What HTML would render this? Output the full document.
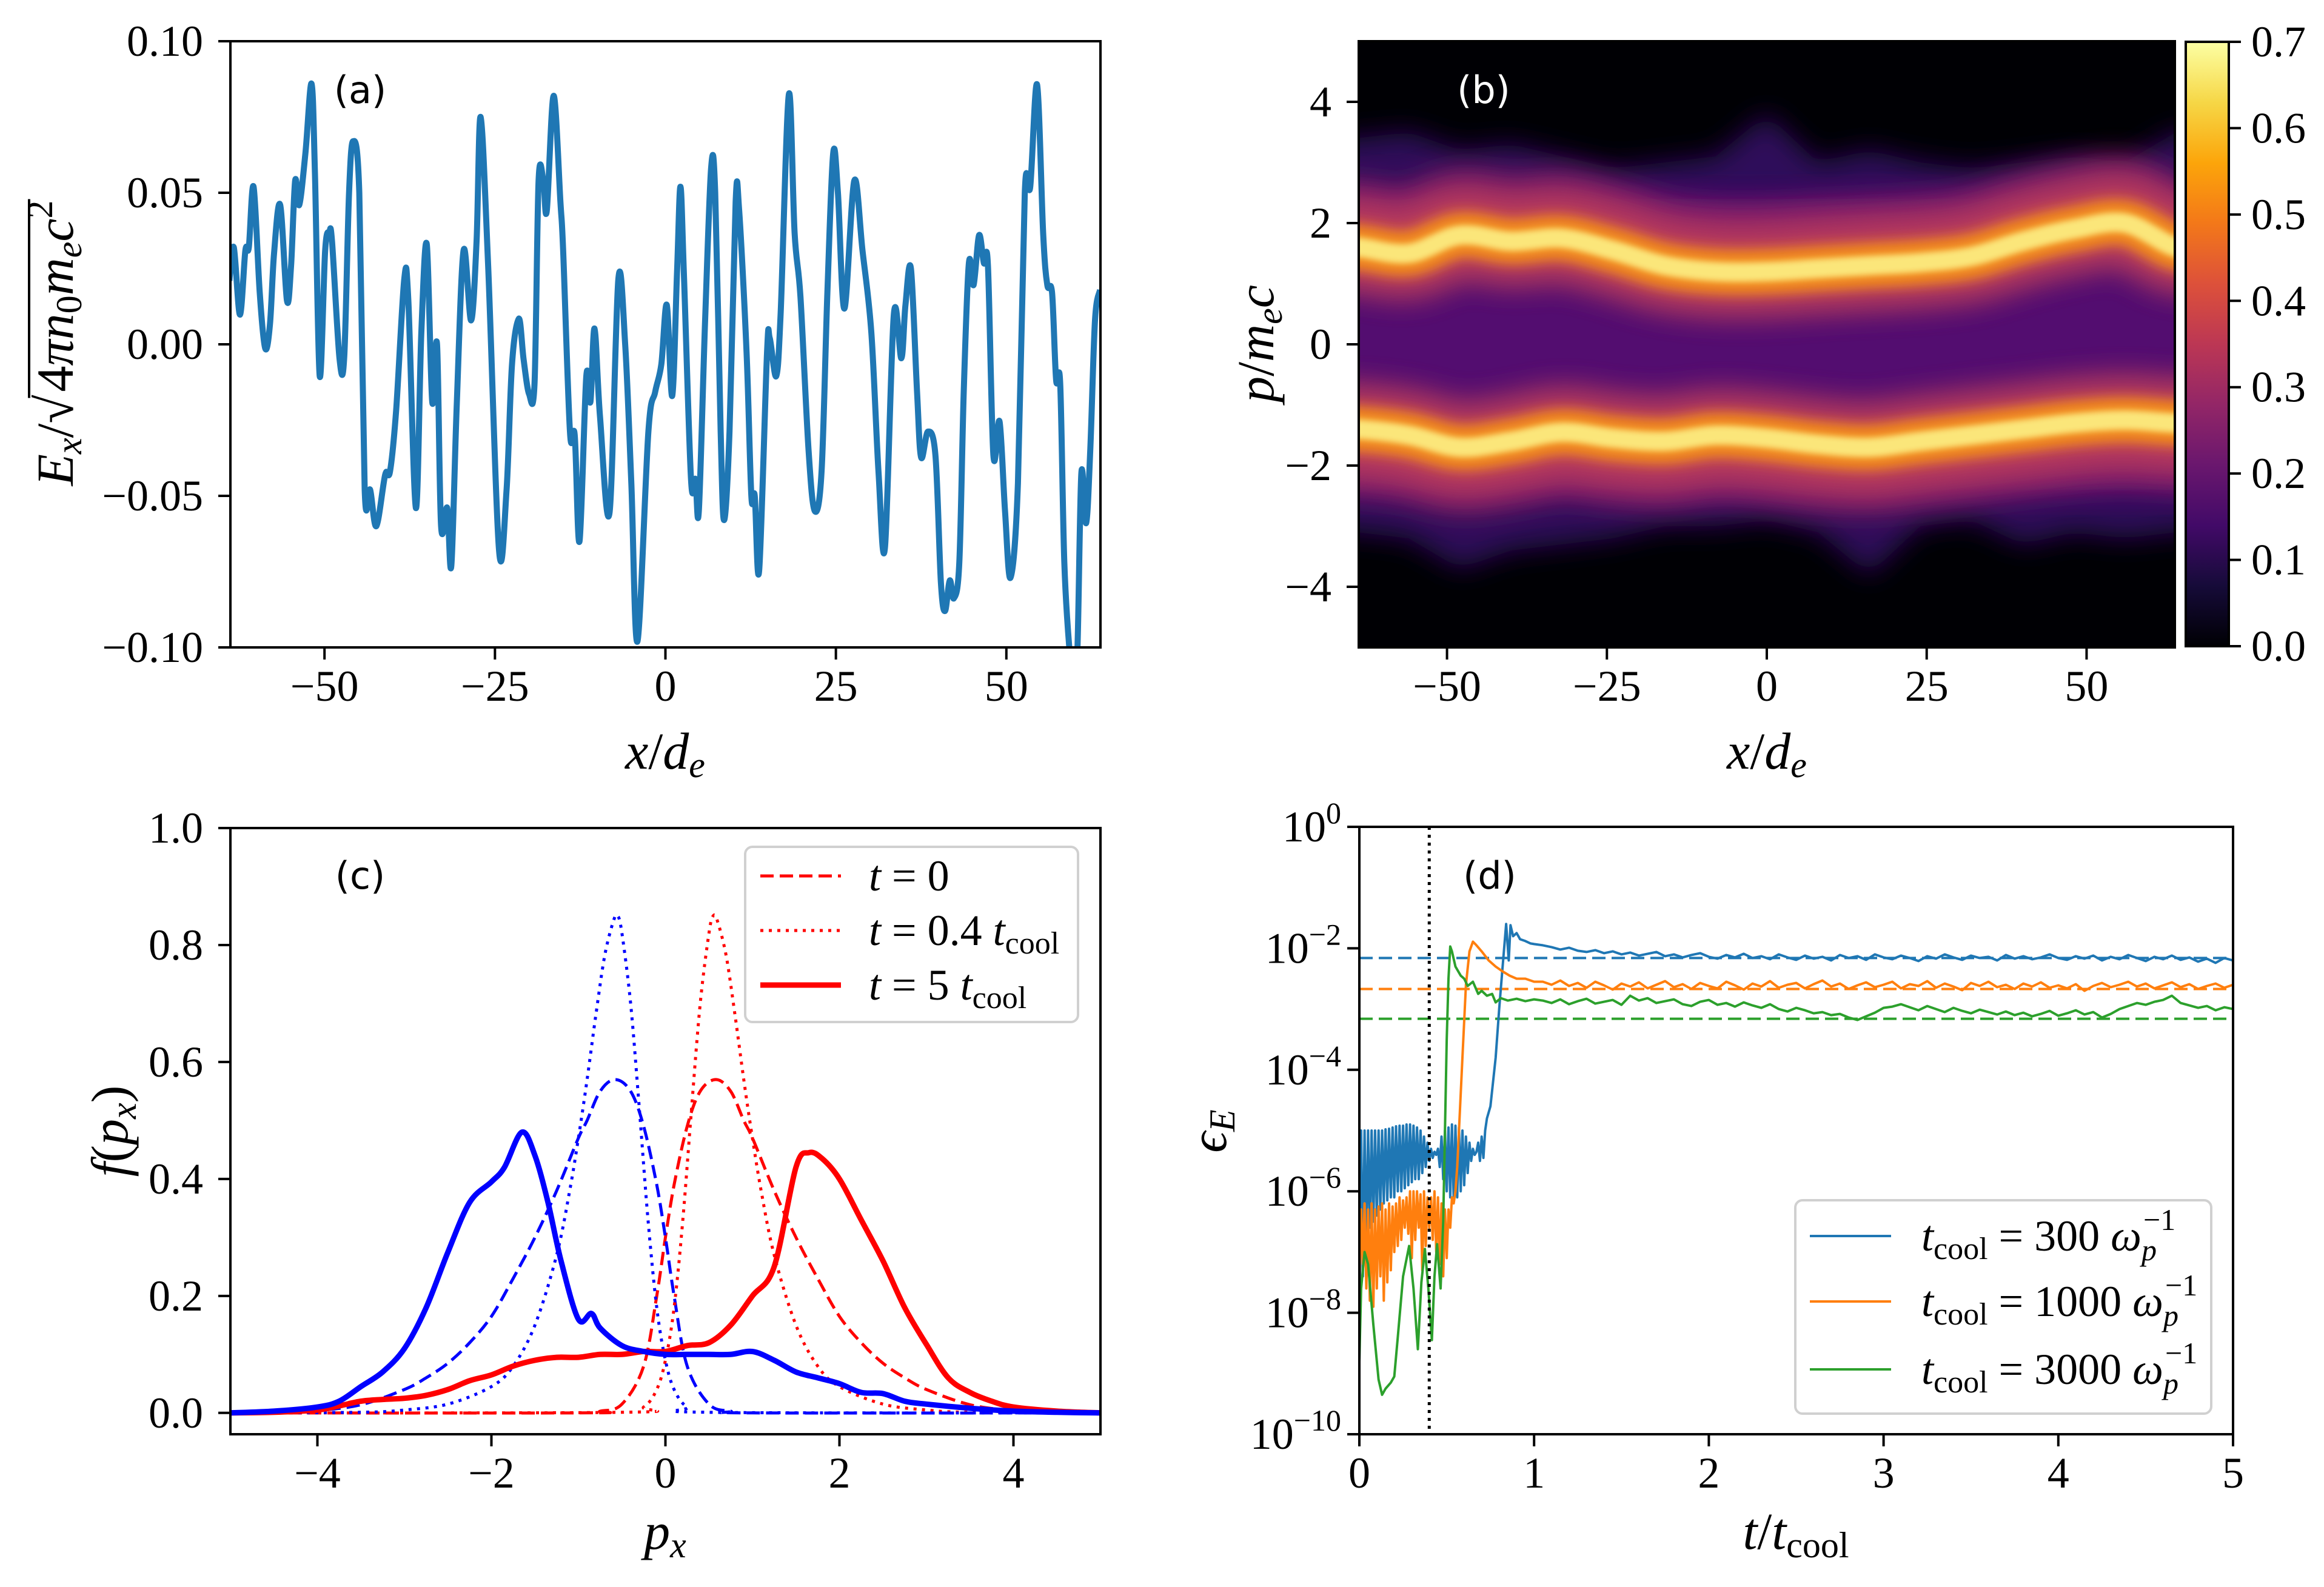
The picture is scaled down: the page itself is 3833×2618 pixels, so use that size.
<!DOCTYPE html>
<html><head><meta charset="utf-8">
<style>
html,body{margin:0;padding:0;background:#fff;}
svg{display:block;}
text{font-family:"Liberation Serif",serif;}
.sans{font-family:"DejaVu Sans","Liberation Sans",sans-serif;}
</style></head>
<body>
<svg id="fig" xmlns="http://www.w3.org/2000/svg" width="3833" height="2618" viewBox="0 0 3833 2618">
<defs>
  <clipPath id="clipA"><rect x="380" y="68" width="1435" height="1000"/></clipPath>
  <clipPath id="clipB"><rect x="2241" y="68" width="1346" height="1000"/></clipPath>
  <clipPath id="clipC"><rect x="380" y="1366" width="1435" height="1000"/></clipPath>
  <clipPath id="clipD"><rect x="2242" y="1364" width="1441" height="1002"/></clipPath>
  <linearGradient id="inferno" x1="0" y1="1" x2="0" y2="0">
    <stop offset="0" stop-color="#000004"/><stop offset="0.1" stop-color="#160b39"/>
    <stop offset="0.2" stop-color="#420a68"/><stop offset="0.3" stop-color="#6a176e"/>
    <stop offset="0.4" stop-color="#932667"/><stop offset="0.5" stop-color="#bc3754"/>
    <stop offset="0.6" stop-color="#dd513a"/><stop offset="0.7" stop-color="#f37819"/>
    <stop offset="0.8" stop-color="#fca50a"/><stop offset="0.9" stop-color="#f6d746"/>
    <stop offset="1" stop-color="#fcffa4"/>
  </linearGradient>
  <filter id="blur1" filterUnits="userSpaceOnUse" x="2000" y="-200" width="1900" height="1500"><feGaussianBlur stdDeviation="22"/></filter>
  <filter id="blur2" filterUnits="userSpaceOnUse" x="2000" y="-200" width="1900" height="1500"><feGaussianBlur stdDeviation="10"/></filter>
  <filter id="blur3" filterUnits="userSpaceOnUse" x="2000" y="-200" width="1900" height="1500"><feGaussianBlur stdDeviation="5"/></filter>
</defs>
<rect x="0" y="0" width="3833" height="2618" fill="#fff"/>
<g id="panelA"></g>
<g id="panelB"></g>
<g id="panelC"></g>
<g id="panelD"></g>
</svg>
<script>
// ---------- Panel (a) data ----------
const aX = [-63.95,-63.3,-62.4,-61.6,-61.1,-60.4,-59.5,-58.7,-58.0,-57.4,-56.5,-55.5,-54.9,-54.3,-53.7,-52.8,-51.9,-51.4,-50.7,-49.9,-49.3,-48.9,-47.8,-47.1,-46.4,-45.8,-44.9,-44.1,-43.3,-42.4,-41.1,-40.4,-39.5,-38.3,-37.7,-36.6,-35.8,-35.0,-34.2,-33.5,-32.9,-32.0,-31.4,-30.6,-29.6,-28.5,-27.7,-27.1,-26.0,-24.4,-23.3,-22.5,-21.5,-20.8,-20.0,-19.2,-18.6,-17.9,-17.4,-16.4,-15.4,-15.0,-14.0,-13.3,-12.6,-11.6,-11.0,-10.4,-9.6,-8.2,-6.9,-5.9,-5.0,-4.1,-2.5,-1.5,-0.6,0.2,1.0,1.7,2.2,2.7,3.75,4.4,4.9,5.8,6.7,7.3,8.1,8.6,9.4,10.3,10.8,11.9,12.6,13.1,13.75,14.9,15.3,16.25,16.9,18.1,18.95,19.8,21.0,21.9,22.9,23.75,24.6,25.3,26.25,27.7,28.9,30.2,31.25,32.2,33.5,34.6,35.2,36.0,36.9,37.5,38.5,39.6,40.4,41.0,41.7,42.3,43.1,43.75,44.5,45.2,46.0,46.7,47.3,48.1,49.0,49.8,50.6,51.7,52.7,53.5,54.5,55.4,56.0,56.7,57.3,57.9,58.5,59.3,59.8,60.4,61.0,61.7,62.3,63.0,63.75];
const aY = [0.021,0.032,0.0098,0.031,0.032,0.052,0.017,-0.0013,0.0065,0.030,0.046,0.0144,0.026,0.054,0.046,0.063,0.086,0.056,-0.0105,0.031,0.037,0.034,-0.0046,-0.004,0.050,0.067,0.050,-0.048,-0.048,-0.060,-0.043,-0.042,-0.022,0.0216,0.0144,-0.054,0.0039,0.033,-0.019,0,-0.060,-0.054,-0.073,-0.0196,0.031,0.0079,0.034,0.075,0.026,-0.068,-0.048,-0.0065,0.0085,-0.005,-0.0164,-0.013,0.054,0.054,0.044,0.082,0.047,0.031,-0.029,-0.030,-0.065,-0.0105,-0.019,0.0052,-0.0236,-0.0556,0.0216,0,-0.046,-0.098,-0.0288,-0.0157,-0.0065,0.013,-0.017,0.0236,0.052,0.0236,-0.0445,-0.0445,-0.055,0.0065,0.058,0.050,-0.0288,-0.058,-0.0288,0.047,0.0445,-0.0026,-0.050,-0.050,-0.0746,-0.0026,0.002,-0.0105,0.0105,0.0825,0.0366,0.0157,-0.0353,-0.055,-0.042,0.017,0.063,0.050,0.0118,0.054,0.031,0.0039,-0.042,-0.067,0.0098,-0.0046,0.013,0.025,-0.0157,-0.0373,-0.0288,-0.0366,-0.0785,-0.088,-0.0779,-0.0838,-0.072,-0.0157,0.0268,0.0196,0.036,0.0268,0.026,-0.0366,-0.0255,-0.055,-0.077,-0.0458,0.050,0.052,0.0857,0.0366,0.0196,0.017,-0.0118,-0.013,-0.072,-0.102,-0.107,-0.102,-0.0425,-0.059,-0.0353,0.0079,0.018];
const aXTicks = [-50,-25,0,25,50];
const aYTicks = [-0.10,-0.05,0.00,0.05,0.10];
const aYTickLabels = ["\u22120.10","\u22120.05","0.00","0.05","0.10"];

// ---------- Panel (b) data ----------
const bX = [-64,-56,-48,-40,-32,-24,-16,-8,0,8,16,24,32,40,48,56,64];
const bUpper = [1.6,1.5,1.8,1.7,1.75,1.55,1.3,1.2,1.2,1.25,1.3,1.35,1.45,1.7,1.9,2.0,1.6];
const bLower = [-1.4,-1.5,-1.7,-1.6,-1.45,-1.55,-1.6,-1.5,-1.55,-1.65,-1.7,-1.6,-1.5,-1.4,-1.3,-1.25,-1.3];
const bEnvTop = [3.4,3.5,3.2,3.3,3.1,2.9,3.0,3.1,3.8,3.0,3.2,3.0,2.9,3.0,3.1,3.0,3.5];
const bEnvBot = [-3.1,-3.2,-3.7,-3.4,-3.3,-3.2,-3.0,-3.0,-2.9,-3.1,-3.8,-3.0,-2.9,-3.3,-3.1,-3.2,-3.1];
const bYTicks = [-4,-2,0,2,4];
const bYTickLabels = ["\u22124","\u22122","0","2","4"];
const cbTicks = [0.0,0.1,0.2,0.3,0.4,0.5,0.6,0.7];
const cbTickLabels = ["0.0","0.1","0.2","0.3","0.4","0.5","0.6","0.7"];

// ---------- Panel (c) data ----------
const cRedDashX = [-5,-1,-0.75,-0.5,-0.25,-0.1,0,0.1,0.25,0.4,0.58,0.75,0.9,1.0,1.25,1.5,1.75,2.0,2.25,2.5,2.75,3,3.5,4,4.5,5];
const cRedDashY = [0,0,0.003,0.015,0.08,0.2,0.3,0.39,0.49,0.55,0.57,0.55,0.5,0.47,0.38,0.3,0.23,0.165,0.12,0.085,0.06,0.04,0.014,0.004,0.001,0];
const cBlueDashX = [-5,-4.5,-4,-3.5,-3,-2.75,-2.5,-2.25,-2.0,-1.75,-1.5,-1.25,-1.0,-0.9,-0.75,-0.58,-0.4,-0.25,-0.1,0,0.1,0.25,0.5,0.75,1,5];
const cBlueDashY = [0,0.001,0.004,0.014,0.04,0.06,0.085,0.12,0.165,0.23,0.3,0.38,0.47,0.5,0.55,0.57,0.55,0.49,0.39,0.3,0.2,0.08,0.015,0.003,0,0];
const cRedDotX = [-5,-0.5,-0.25,-0.1,0,0.1,0.2,0.3,0.4,0.5,0.55,0.6,0.7,0.8,0.9,1.0,1.1,1.25,1.5,1.75,2.0,2.5,3,3.5,5];
const cRedDotY = [0,0.001,0.01,0.04,0.09,0.18,0.33,0.52,0.7,0.82,0.85,0.84,0.78,0.68,0.57,0.47,0.38,0.27,0.15,0.08,0.045,0.015,0.005,0.001,0];
const cBlueDotX = [-5,-3.5,-3,-2.5,-2.0,-1.75,-1.5,-1.25,-1.1,-1.0,-0.9,-0.8,-0.7,-0.6,-0.55,-0.5,-0.4,-0.3,-0.2,-0.1,0,0.1,0.25,0.5,5];
const cBlueDotY = [0,0.001,0.005,0.015,0.045,0.08,0.15,0.27,0.38,0.47,0.57,0.68,0.78,0.84,0.85,0.82,0.7,0.52,0.33,0.18,0.09,0.04,0.01,0.001,0];
const cRedSolidX = [-5,-4.5,-4,-3.75,-3.5,-3.25,-3,-2.75,-2.5,-2.25,-2,-1.75,-1.5,-1.25,-1,-0.75,-0.5,-0.25,0,0.25,0.5,0.75,1.0,1.25,1.5,1.65,1.8,2.0,2.25,2.5,2.75,3.0,3.25,3.5,3.75,4,4.5,5];
const cRedSolidY = [0,0.001,0.005,0.012,0.02,0.023,0.025,0.03,0.04,0.055,0.065,0.08,0.09,0.095,0.095,0.1,0.1,0.105,0.105,0.115,0.12,0.15,0.2,0.25,0.42,0.445,0.435,0.40,0.33,0.26,0.18,0.117,0.06,0.035,0.02,0.01,0.003,0];
const cBlueSolidX = [-5,-4.5,-4,-3.75,-3.5,-3.25,-3,-2.75,-2.5,-2.25,-2,-1.85,-1.65,-1.5,-1.35,-1.2,-1.0,-0.85,-0.75,-0.5,-0.25,0,0.25,0.5,0.75,1.0,1.25,1.5,1.75,2.0,2.25,2.5,2.75,3,3.5,4,4.5,5];
const cBlueSolidY = [0,0.003,0.01,0.02,0.045,0.07,0.11,0.18,0.275,0.36,0.395,0.42,0.48,0.44,0.36,0.26,0.16,0.17,0.145,0.115,0.105,0.1,0.1,0.1,0.1,0.105,0.09,0.07,0.06,0.05,0.035,0.033,0.02,0.015,0.008,0.003,0.001,0];
const cXTicks = [-4,-2,0,2,4];
const cXTickLabels = ["\u22124","\u22122","0","2","4"];
const cYTicks = [0,0.2,0.4,0.6,0.8,1.0];
const cYTickLabels = ["0.0","0.2","0.4","0.6","0.8","1.0"];

// ---------- Panel (d) data (log10 of eps_E) ----------
const dBlueEarly = [-8.8,-5.0,-7.4,-5.0,-6.9,-5.0,-6.6,-5.0,-6.5,-5.0,-6.4,-5.0,-6.3,-5.0,-6.2,-4.98,-6.15,-4.97,-6.1,-4.95,-6.1,-4.93,-6.0,-4.92,-6.0,-4.92,-5.95,-4.9,-5.9,-4.9,-5.85,-4.92,-5.8,-4.95,-5.8,-5.0,-5.7,-5.1,-5.6,-5.2,-5.5,-5.3,-5.45,-5.35,-5.4,-5.3,-5.6,-5.1,-5.8,-5.0,-6.0,-4.95,-6.1,-4.9,-6.15,-4.92,-6.1,-4.95,-6.0,-5.0,-5.9,-5.1,-5.7,-5.2,-5.5,-5.3,-5.4,-5.35,-5.2,-5.5,-5.1,-5.45,-5.0];
const dBlueRiseT = [0.73,0.75,0.78,0.80,0.82,0.84,0.855,0.865,0.88,0.90,0.92,0.95,0.98,1.0];
const dBlueRise = [-4.8,-4.6,-3.8,-3.0,-2.3,-1.6,-2.2,-1.62,-1.8,-1.75,-1.85,-1.88,-1.92,-1.93];
const dBlueLate = [-1.95,-1.98,-2.02,-1.99,-2.04,-2.06,-2.03,-2.08,-2.05,-2.10,-2.07,-2.12,-2.09,-2.06,-2.13,-2.10,-2.15,-2.11,-2.08,-2.14,-2.17,-2.11,-2.15,-2.09,-2.16,-2.13,-2.18,-2.10,-2.15,-2.19,-2.12,-2.17,-2.14,-2.20,-2.11,-2.16,-2.13,-2.19,-2.10,-2.15,-2.18,-2.12,-2.16,-2.21,-2.13,-2.17,-2.10,-2.15,-2.19,-2.12,-2.16,-2.14,-2.20,-2.11,-2.17,-2.13,-2.18,-2.15,-2.10,-2.16,-2.19,-2.13,-2.17,-2.12,-2.20,-2.14,-2.18,-2.11,-2.16,-2.21,-2.14,-2.18,-2.12,-2.19,-2.15,-2.22,-2.17,-2.24,-2.16,-2.20];
const dOrangeEarly = [-7.5,-6.3,-7.2,-6.2,-7.6,-6.3,-7.8,-6.2,-7.9,-6.3,-7.6,-6.25,-7.4,-6.2,-7.8,-6.3,-7.5,-6.2,-7.3,-6.25,-7.0,-6.2,-6.9,-6.1,-6.8,-6.15,-6.6,-6.1,-6.7,-6.0,-7.1,-6.0,-6.8,-6.0,-6.6,-6.05,-7.3,-6.0,-6.9,-6.1,-6.6,-6.1,-6.8,-6.0,-7.0,-6.1,-7.2,-6.2,-7.4,-6.3,-7.1,-6.3,-6.6,-6.1,-6.2,-6.0,-5.6];
const dOrangeRiseT = [0.57,0.59,0.61,0.63,0.65,0.67,0.70,0.74,0.78,0.82,0.86,0.90,0.95,1.0];
const dOrangeRise = [-5.0,-3.8,-2.6,-2.05,-1.89,-1.95,-2.05,-2.2,-2.3,-2.38,-2.45,-2.5,-2.5,-2.55];
const dOrangeLate = [-2.55,-2.60,-2.53,-2.62,-2.57,-2.65,-2.55,-2.61,-2.68,-2.58,-2.63,-2.56,-2.66,-2.60,-2.54,-2.64,-2.59,-2.67,-2.57,-2.62,-2.66,-2.55,-2.61,-2.68,-2.58,-2.63,-2.54,-2.65,-2.60,-2.57,-2.66,-2.59,-2.53,-2.63,-2.58,-2.67,-2.61,-2.56,-2.64,-2.60,-2.55,-2.66,-2.59,-2.62,-2.54,-2.65,-2.58,-2.63,-2.69,-2.57,-2.62,-2.55,-2.64,-2.60,-2.67,-2.58,-2.63,-2.56,-2.65,-2.61,-2.66,-2.59,-2.70,-2.62,-2.57,-2.64,-2.60,-2.55,-2.63,-2.58,-2.66,-2.61,-2.56,-2.64,-2.59,-2.67,-2.62,-2.58,-2.65,-2.60];
const dGreenEarlyT = [0,0.01,0.03,0.05,0.08,0.11,0.13,0.15,0.18,0.2,0.22,0.25,0.285,0.31,0.335,0.355,0.375,0.395,0.415,0.43,0.445,0.465,0.48,0.49,0.50,0.51,0.52,0.53,0.55,0.58,0.6,0.62,0.65,0.68,0.7,0.73,0.76,0.78,0.81,0.85,0.9,0.95,1.0];
const dGreenEarly = [-8.8,-7.6,-7.0,-7.2,-8.2,-9.1,-9.35,-9.25,-9.15,-9.05,-8.4,-7.4,-6.9,-7.6,-8.6,-7.5,-6.95,-7.6,-8.45,-7.4,-6.87,-7.6,-6.5,-5.0,-3.5,-2.5,-1.97,-2.05,-2.3,-2.45,-2.5,-2.62,-2.55,-2.75,-2.7,-2.78,-2.75,-2.89,-2.82,-2.86,-2.83,-2.87,-2.84];
const dGreenLate = [-2.86,-2.90,-2.84,-2.92,-2.87,-2.83,-2.91,-2.88,-2.85,-2.93,-2.78,-2.86,-2.82,-2.90,-2.87,-2.84,-2.92,-2.95,-2.88,-2.85,-2.93,-2.90,-2.96,-2.89,-2.94,-2.98,-2.92,-3.00,-3.04,-2.98,-3.02,-3.07,-3.05,-3.10,-3.08,-3.14,-3.18,-3.12,-3.06,-2.98,-2.96,-2.92,-2.97,-3.02,-2.95,-3.00,-3.05,-2.98,-3.03,-3.07,-3.01,-3.05,-3.09,-3.04,-3.10,-3.06,-3.12,-3.08,-3.03,-3.11,-3.07,-3.02,-3.09,-3.05,-3.14,-3.08,-3.00,-2.95,-2.90,-2.93,-2.88,-2.85,-2.78,-2.90,-2.94,-2.98,-2.95,-3.02,-2.97,-3.00];
const dRefLevels = [-2.16,-2.67,-3.16];
const dCoolMark = [0.4];
const dXTicks = [0,1,2,3,4,5];
const dYTicks = [0,-2,-4,-6,-8,-10];
const dYTickExps = ["0","\u22122","\u22124","\u22126","\u22128","\u221210"];

const NS = 'http://www.w3.org/2000/svg';
function mk(tag, attrs, parent){
  const e = document.createElementNS(NS, tag);
  for (const k in attrs) e.setAttribute(k, attrs[k]);
  parent.appendChild(e);
  return e;
}
function scale(d0,d1,p0,p1){ return v => p0 + (v-d0)/(d1-d0)*(p1-p0); }
function pathFrom(xs, ys, sx, sy){
  let d = '';
  for (let i=0;i<xs.length;i++){ d += (i?'L':'M') + sx(xs[i]).toFixed(1) + ' ' + sy(ys[i]).toFixed(1); }
  return d;
}
function smoothPath(xs, ys, sx, sy){
  const P = xs.map((x,i)=>[sx(x), sy(ys[i])]);
  let d = 'M'+P[0][0].toFixed(1)+' '+P[0][1].toFixed(1);
  for (let i=0;i<P.length-1;i++){
    const p0 = P[Math.max(0,i-1)], p1 = P[i], p2 = P[i+1], p3 = P[Math.min(P.length-1,i+2)];
    const c1x = p1[0]+(p2[0]-p0[0])/6, c1y = p1[1]+(p2[1]-p0[1])/6;
    const c2x = p2[0]-(p3[0]-p1[0])/6, c2y = p2[1]-(p3[1]-p1[1])/6;
    d += 'C'+c1x.toFixed(1)+' '+c1y.toFixed(1)+' '+c2x.toFixed(1)+' '+c2y.toFixed(1)+' '+p2[0].toFixed(1)+' '+p2[1].toFixed(1);
  }
  return d;
}
function seq(start, step, n){ const r=[]; for(let i=0;i<n;i++) r.push(+(start+i*step).toFixed(4)); return r; }

function frame(g, L, R, T, B){
  const f = mk('rect', {x:L, y:T, width:R-L, height:B-T, fill:'none', stroke:'#000', 'stroke-width':4}, g);
  
  
}
function xTicks(g, vals, labels, sx, B){
  vals.forEach((v,i)=>{
    const x = sx(v);
    const t = mk('line', {x1:x, x2:x, y1:B, y2:B+20, stroke:'#000', 'stroke-width':4}, g);
    
    
    const tx = mk('text', {x:x, y:B+88, 'font-size':72, 'text-anchor':'middle'}, g);
    tx.textContent = labels[i];
    
    
  });
}
function yTicks(g, vals, labels, sy, L){
  vals.forEach((v,i)=>{
    const y = sy(v);
    const t = mk('line', {x1:L-20, x2:L, y1:y, y2:y, stroke:'#000', 'stroke-width':4}, g);
    
    
    const tx = mk('text', {x:L-45, y:y+24, 'font-size':72, 'text-anchor':'end'}, g);
    tx.textContent = labels[i];
    
    
  });
}

// ================= Panel A =================
(function(){
  const g = document.getElementById('panelA');
  const L=380,R=1815,T=68,B=1068;
  const sx = scale(-63.8,63.8,L,R), sy = scale(-0.1,0.1,B,T);
  const p = mk('path', {d:smoothPath(aX,aY,sx,sy), fill:'none', stroke:'#1f77b4', 'stroke-width':10, 'stroke-linejoin':'round', 'clip-path':'url(#clipA)'}, g);
  
  
  frame(g,L,R,T,B);
  xTicks(g, aXTicks, aXTicks.map(v=>v<0?'\u2212'+(-v):String(v)), sx, B);
  yTicks(g, aYTicks, aYTickLabels, sy, L);
  const xl = mk('text', {x:1097, y:1268, 'font-size':86, 'text-anchor':'middle', 'font-style':'italic'}, g);
  xl.innerHTML = 'x<tspan font-style="normal">/</tspan>d<tspan font-size="60" dy="14">e</tspan>';
  
  
  const yg = mk('g', {transform:'translate(120,567) rotate(-90)'}, g);
  
  
  const t1 = mk('text', {x:0, y:0, 'font-size':86}, yg);
  t1.innerHTML = '<tspan font-style="italic">E</tspan><tspan font-style="italic" font-size="60" dy="14">x</tspan><tspan dy="-14">/\u221A</tspan>';
  
  
  const t2 = mk('text', {x:0, y:0, 'font-size':86}, yg);
  t2.innerHTML = '4<tspan font-style="italic">\u03C0n</tspan><tspan font-size="60" dy="14">0</tspan><tspan font-style="italic" dy="-14">m</tspan><tspan font-style="italic" font-size="60" dy="14">e</tspan><tspan font-style="italic" dy="-14">c</tspan><tspan font-size="60" dy="-34">2</tspan>';
  
  
  const w1 = t1.getComputedTextLength ? t1.getBBox().width : 200;
  const w2 = t2.getBBox().width;
  const x0 = -(w1+w2)/2;
  t1.setAttribute('x', x0);
  t2.setAttribute('x', x0+w1+2);
  const ov = mk('line', {x1:x0+w1-8, x2:x0+w1+w2+4, y1:-72, y2:-72, stroke:'#000', 'stroke-width':4}, yg);
  
  
  const pl = mk('text', {x:594, y:170, 'font-size':62, 'text-anchor':'middle', class:'sans'}, g);
  pl.textContent = '(a)';
  
  
})();

// ================= Panel B =================
(function(){
  const g = document.getElementById('panelB');
  const L=2241,R=3587,T=68,B=1068;
  const sx = scale(-63.8,63.8,L,R), sy = scale(-5,5,B,T);
  const hm = mk('g', {'clip-path':'url(#clipB)'}, g);
  
  
  const bg = mk('rect', {x:L, y:T, width:R-L, height:B-T, fill:'#000004'}, hm);
  
  
  const ex = [sx(-70)].concat(bX.map(sx)).concat([sx(70)]);
  const topPts = [bEnvTop[0]].concat(bEnvTop).concat([bEnvTop[bEnvTop.length-1]]);
  const botPts = [bEnvBot[0]].concat(bEnvBot).concat([bEnvBot[bEnvBot.length-1]]);
  let d = '';
  ex.forEach((x,i)=>{ d += (i?'L':'M')+x.toFixed(1)+' '+sy(topPts[i]).toFixed(1); });
  for (let i=ex.length-1;i>=0;i--) d += 'L'+ex[i].toFixed(1)+' '+sy(botPts[i]).toFixed(1);
  d += 'Z';
  const env1 = mk('path', {d:d, fill:'#2e0c5a', filter:'url(#blur1)'}, hm);
  
  
  const core = mk('rect', {x:L-60, y:sy(2.4), width:R-L+120, height:sy(-2.4)-sy(2.4), fill:'#521170', filter:'url(#blur1)'}, hm);
  
  
  const bxs = [-70].concat(bX).concat([70]);
  [[bUpper,'upper',1],[bLower,'lower',-1]].forEach(([arr,nm,sgn])=>{
    const ys = [arr[0]].concat(arr).concat([arr[arr.length-1]]);
    const outer = ys.map(v=>v+sgn*0.45);
    const po = smoothPath(bxs, outer, sx, sy);
    const b0 = mk('path', {d:po, fill:'none', stroke:'#8f2468', 'stroke-width':130, filter:'url(#blur1)', opacity:0.85}, hm);
    
    
    const pd = smoothPath(bxs, ys, sx, sy);
    const b1 = mk('path', {d:pd, fill:'none', stroke:'#c0405a', 'stroke-width':150, filter:'url(#blur1)', opacity:0.9}, hm);
    
    
    const b2 = mk('path', {d:pd, fill:'none', stroke:'#f28a1e', 'stroke-width':75, filter:'url(#blur2)'}, hm);
    
    
    const b3 = mk('path', {d:pd, fill:'none', stroke:'#fbe67a', 'stroke-width':32, filter:'url(#blur3)'}, hm);
    
    
  });
  frame(g,L,R,T,B);
  xTicks(g, aXTicks, aXTicks.map(v=>v<0?'\u2212'+(-v):String(v)), sx, B);
  yTicks(g, bYTicks, bYTickLabels, sy, L);
  const xl = mk('text', {x:2914, y:1268, 'font-size':86, 'text-anchor':'middle', 'font-style':'italic'}, g);
  xl.innerHTML = 'x<tspan font-style="normal">/</tspan>d<tspan font-size="60" dy="14">e</tspan>';
  
  
  const yl = mk('text', {x:0, y:0, 'font-size':86, 'text-anchor':'middle', 'font-style':'italic', transform:'translate(2100,567) rotate(-90)'}, g);
  yl.innerHTML = 'p<tspan font-style="normal">/</tspan>m<tspan font-size="60" dy="14">e</tspan><tspan dy="-14">c</tspan>';
  
  
  const pl = mk('text', {x:2447, y:170, 'font-size':62, 'text-anchor':'middle', fill:'#fff', class:'sans'}, g);
  pl.textContent = '(b)';
  
  
  const cL=3605, cR=3676;
  const cs = scale(0,0.7,1066,69);
  const cb = mk('rect', {x:cL, y:69, width:cR-cL, height:997, fill:'url(#inferno)', stroke:'#000', 'stroke-width':4}, g);
  
  
  cbTicks.forEach((v,i)=>{
    const y = cs(v);
    const t = mk('line', {x1:cR, x2:cR+20, y1:y, y2:y, stroke:'#000', 'stroke-width':4}, g);
    
    
    const tx = mk('text', {x:3713, y:y+24, 'font-size':72}, g);
    tx.textContent = cbTickLabels[i];
    
    
  });
})();

// ================= Panel C =================
(function(){
  const g = document.getElementById('panelC');
  const L=380,R=1815,T=1366,B=2366;
  const sx = scale(-5,5,L,R), sy = scale(-0.0365,1,B,T);
  const series = [
    [cRedDashX,cRedDashY,'red',5,'22 10','red-dashed-t0'],
    [cBlueDashX,cBlueDashY,'blue',5,'22 10','blue-dashed-t0'],
    [cRedDotX,cRedDotY,'red',5,'5 9','red-dotted-t04'],
    [cBlueDotX,cBlueDotY,'blue',5,'5 9','blue-dotted-t04'],
    [cRedSolidX,cRedSolidY,'red',9,'none','red-solid-t5'],
    [cBlueSolidX,cBlueSolidY,'blue',9,'none','blue-solid-t5']
  ];
  series.forEach(s=>{
    const p = mk('path', {d:smoothPath(s[0],s[1],sx,sy), fill:'none', stroke:s[2], 'stroke-width':s[3], 'stroke-dasharray':s[4], 'stroke-linejoin':'round', 'clip-path':'url(#clipC)'}, g);
    
    
  });
  frame(g,L,R,T,B);
  xTicks(g, cXTicks, cXTickLabels, sx, B);
  yTicks(g, cYTicks, cYTickLabels, sy, L);
  const xl = mk('text', {x:1097, y:2555, 'font-size':86, 'text-anchor':'middle', 'font-style':'italic'}, g);
  xl.innerHTML = 'p<tspan font-size="60" dy="14">x</tspan>';
  
  
  const yl = mk('text', {x:0, y:0, 'font-size':86, 'text-anchor':'middle', 'font-style':'italic', transform:'translate(210,1866) rotate(-90)'}, g);
  yl.innerHTML = 'f<tspan font-style="normal">(</tspan>p<tspan font-size="60" dy="14">x</tspan><tspan font-style="normal" dy="-14">)</tspan>';
  
  
  const pl = mk('text', {x:594, y:1466, 'font-size':62, 'text-anchor':'middle', class:'sans'}, g);
  pl.textContent = '(c)';
  
  
  const lg = mk('g', {}, g);
  
  
  const lb = mk('rect', {x:1229, y:1397, width:549, height:289, rx:12, fill:'#fff', 'fill-opacity':0.85, stroke:'#d0d0d0', 'stroke-width':4}, lg);
  
  
  const ents = [['22 10',5,'<tspan font-style="italic">t</tspan> = 0','legend-entry-t0',1445],
                ['5 9',5,'<tspan font-style="italic">t</tspan> = 0.4 <tspan font-style="italic">t</tspan><tspan font-size="52" dy="14">cool</tspan>','legend-entry-t04',1535],
                ['none',9,'<tspan font-style="italic">t</tspan> = 5 <tspan font-style="italic">t</tspan><tspan font-size="52" dy="14">cool</tspan>','legend-entry-t5',1625]];
  ents.forEach(e=>{
    const ln = mk('line', {x1:1254, x2:1387, y1:e[4], y2:e[4], stroke:'red', 'stroke-width':e[1], 'stroke-dasharray':e[0]}, lg);
    
    
    const tx = mk('text', {x:1433, y:e[4]+24, 'font-size':72}, lg);
    tx.innerHTML = e[2];
    
    
  });
})();

// ================= Panel D =================
(function(){
  const g = document.getElementById('panelD');
  const L=2242,R=3683,T=1364,B=2366;
  const sx = scale(0,5,L,R), sy = scale(-10,0,B,T);
  const lateT = seq(1.05,0.05,80);
  const blueEarlyT = seq(0,0.01,dBlueEarly.length);
  const orangeEarlyT = seq(0,0.01,dOrangeEarly.length);
  const colors = ['#1f77b4','#ff7f0e','#2ca02c'];
  const bT = blueEarlyT.concat(dBlueRiseT).concat(lateT), bY = dBlueEarly.concat(dBlueRise).concat(dBlueLate);
  const oT = orangeEarlyT.concat(dOrangeRiseT).concat(lateT), oY = dOrangeEarly.concat(dOrangeRise).concat(dOrangeLate);
  const gT = dGreenEarlyT.concat(lateT), gY = dGreenEarly.concat(dGreenLate);
  dRefLevels.forEach((lv,i)=>{
    const ln = mk('line', {x1:L, x2:R, y1:sy(lv), y2:sy(lv), stroke:colors[i], 'stroke-width':4, 'stroke-dasharray':'22 10'}, g);
    
    
  });
  [[bT,bY,0,'series-tcool-300'],[oT,oY,1,'series-tcool-1000'],[gT,gY,2,'series-tcool-3000']].forEach(s=>{
    const p = mk('path', {d:pathFrom(s[0],s[1],sx,sy), fill:'none', stroke:colors[s[2]], 'stroke-width':4, 'stroke-linejoin':'round', 'clip-path':'url(#clipD)'}, g);
    
    
  });
  dCoolMark.forEach(t=>{
    const v = mk('line', {x1:sx(t), x2:sx(t), y1:T, y2:B, stroke:'#000', 'stroke-width':5, 'stroke-dasharray':'5 8'}, g);
    
    
  });
  frame(g,L,R,T,B);
  xTicks(g, dXTicks, dXTicks.map(String), sx, B);
  dYTicks.forEach((v,i)=>{
    const y = sy(v);
    const t = mk('line', {x1:L-20, x2:L, y1:y, y2:y, stroke:'#000', 'stroke-width':4}, g);
    
    
    const tx = mk('text', {x:L-30, y:y+24, 'font-size':72, 'text-anchor':'end'}, g);
    tx.innerHTML = '10<tspan font-size="50" dy="-30">'+dYTickExps[i]+'</tspan>';
    
    
  });
  const xl = mk('text', {x:2962, y:2555, 'font-size':86, 'text-anchor':'middle', 'font-style':'italic'}, g);
  xl.innerHTML = 't<tspan font-style="normal">/</tspan>t<tspan font-style="normal" font-size="60" dy="14">cool</tspan>';
  
  
  const yl = mk('text', {x:0, y:0, 'font-size':86, 'text-anchor':'middle', 'font-style':'italic', transform:'translate(2022,1866) rotate(-90)'}, g);
  yl.innerHTML = '\u03F5<tspan font-size="60" dy="14">E</tspan>';
  
  
  const pl = mk('text', {x:2457, y:1466, 'font-size':62, 'text-anchor':'middle', class:'sans'}, g);
  pl.textContent = '(d)';
  
  
  const lg = mk('g', {}, g);
  
  
  const lb = mk('rect', {x:2961, y:1980, width:686, height:352, rx:12, fill:'#fff', 'fill-opacity':0.85, stroke:'#d0d0d0', 'stroke-width':4}, lg);
  
  
  const vals = ['300','1000','3000'];
  const rows = [2039,2147,2259];
  vals.forEach((v,i)=>{
    const ln = mk('line', {x1:2985, x2:3119, y1:rows[i], y2:rows[i], stroke:colors[i], 'stroke-width':4}, lg);
    
    
    const tx = mk('text', {x:3169, y:rows[i]+24, 'font-size':72}, lg);
    tx.innerHTML = '<tspan font-style="italic">t</tspan><tspan font-size="52" dy="14">cool</tspan><tspan dy="-14"> = '+v+' </tspan><tspan font-style="italic">\u03C9</tspan><tspan font-size="50" font-style="italic" dy="16">p</tspan><tspan font-size="50" dx="-22" dy="-50">\u22121</tspan>';
    
    
  });
})();
</script>
</body></html>
